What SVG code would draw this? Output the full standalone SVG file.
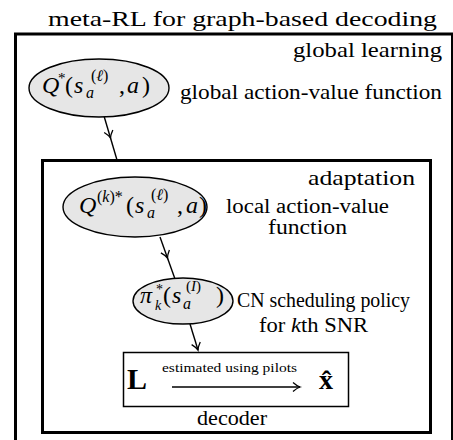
<svg xmlns="http://www.w3.org/2000/svg" width="453" height="440" viewBox="0 0 453 440">
<defs>
<marker id="arr" markerWidth="12" markerHeight="12" refX="9" refY="6" orient="auto" markerUnits="userSpaceOnUse">
<path d="M2,1.5 Q6,5 9,6 Q6,7 2,10.5" fill="none" stroke="#000" stroke-width="1.3"/>
</marker>
</defs>
<style>
.t{fill:#000}
.m{font-style:italic;fill:#000}
.box{fill:none;stroke:#000;stroke-width:3}
.ell{fill:#e6e6e6;stroke:#000;stroke-width:1.4}
.con{fill:none;stroke:#000;stroke-width:1.4}
</style>
<rect width="453" height="440" fill="#fff"/>
<g font-family="Liberation Serif, DejaVu Serif, serif">
<text class="t" x="48" y="26" font-size="22" textLength="389" lengthAdjust="spacingAndGlyphs">meta-RL for graph-based decoding</text>
<g id="global">
<rect class="box" x="15.5" y="34" width="437" height="420"/>
<text class="t" x="293" y="57" font-size="21" textLength="149" lengthAdjust="spacingAndGlyphs">global learning</text>
</g>
<g id="adapt">
<rect class="box" x="42.5" y="160.5" width="388" height="272"/>
<text class="t" x="308" y="185" font-size="21" textLength="107" lengthAdjust="spacingAndGlyphs">adaptation</text>
</g>
<g id="connectors">
<path class="con" d="M104,116 L110.5,138 L117,160" marker-mid="url(#arr)"/>
<path class="con" d="M160,237 L167.5,258 L175,279" marker-mid="url(#arr)"/>
<path class="con" d="M190,324 L198,350" marker-end="url(#arr)"/>
</g>
<g id="qglobal">
<ellipse class="ell" cx="99" cy="88" rx="70" ry="29"/>
<text class="m" x="42" y="93" font-size="24">Q</text>
<text class="t" x="58" y="83" font-size="15">*</text>
<text class="t" x="65" y="93" font-size="24">(</text>
<text class="m" x="74" y="93" font-size="24">s</text>
<text class="m" x="86" y="98" font-size="16">a</text>
<text class="t" x="91" y="81" font-size="16">(<tspan font-style="italic">ℓ</tspan>)</text>
<text class="t" x="119" y="93" font-size="24">,</text>
<text class="m" x="127" y="93" font-size="24">a</text>
<text class="t" x="142" y="93" font-size="24">)</text>
<text class="t" x="180" y="99" font-size="21" textLength="262" lengthAdjust="spacingAndGlyphs">global action-value function</text>
</g>
<g id="qlocal">
<ellipse class="ell" cx="135" cy="207" rx="72" ry="30"/>
<text class="m" x="79" y="213" font-size="24">Q</text>
<text class="t" x="97" y="202" font-size="16">(<tspan font-style="italic">k</tspan>)*</text>
<text class="t" x="126" y="213" font-size="24">(</text>
<text class="m" x="135" y="213" font-size="24">s</text>
<text class="m" x="147" y="218" font-size="16">a</text>
<text class="t" x="151" y="200" font-size="16">(<tspan font-style="italic">ℓ</tspan>)</text>
<text class="t" x="177" y="213" font-size="24">,</text>
<text class="m" x="186" y="213" font-size="24">a</text>
<text class="t" x="199" y="213" font-size="24">)</text>
<text class="t" x="226" y="213" font-size="20" textLength="163" lengthAdjust="spacingAndGlyphs">local action-value</text>
<text class="t" x="268" y="234" font-size="20" textLength="79" lengthAdjust="spacingAndGlyphs">function</text>
</g>
<g id="policy">
<ellipse class="ell" cx="183" cy="301" rx="50" ry="23"/>
<text class="m" x="140" y="303" font-size="24">π</text>
<text class="t" x="156" y="294" font-size="14">*</text>
<text class="m" x="155" y="310" font-size="14">k</text>
<text class="t" x="163" y="303" font-size="24">(</text>
<text class="m" x="172" y="303" font-size="24">s</text>
<text class="m" x="183" y="309" font-size="16">a</text>
<text class="t" x="186" y="291" font-size="15">(<tspan font-style="italic">I</tspan>)</text>
<text class="t" x="216" y="303" font-size="24">)</text>
<text class="t" x="237" y="307" font-size="20" textLength="173" lengthAdjust="spacingAndGlyphs">CN scheduling policy</text>
<text class="t" x="259" y="332" font-size="21" textLength="109" lengthAdjust="spacingAndGlyphs">for <tspan font-style="italic">k</tspan>th SNR</text>
</g>
<g id="decoder">
<rect x="123.5" y="352.5" width="225" height="54" fill="#fff" stroke="#000" stroke-width="1.5"/>
<text class="t" x="127" y="389" font-size="30" font-weight="bold">L</text>
<text class="t" x="162" y="372" font-size="13" textLength="135" lengthAdjust="spacingAndGlyphs">estimated using pilots</text>
<path class="con" d="M172,387 L300,387" marker-end="url(#arr)"/>
<text class="t" x="319" y="389" font-size="28" font-weight="bold">x̂</text>
<text class="t" x="197" y="425" font-size="22" textLength="70" lengthAdjust="spacingAndGlyphs">decoder</text>
</g>
</g>
</svg>
